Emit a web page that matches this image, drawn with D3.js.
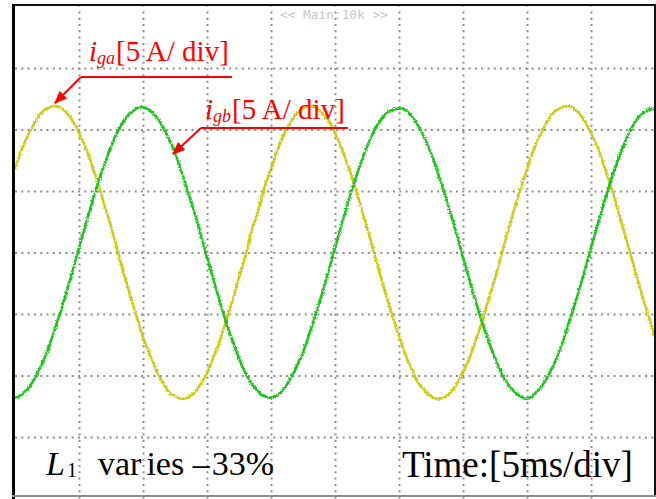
<!DOCTYPE html>
<html>
<head>
<meta charset="utf-8">
<script src="https://cdn.jsdelivr.net/npm/d3@7/dist/d3.min.js"></script>
<style>
    body { margin: 0; background: #fff; }
    svg { display: block; }
</style>
</head>
<body>
<div class="scope"></div>
<script>
// sample step of both traces, ms
var sampleStepMs = 0.5;

// i_ga, A (yellow trace), one value every 0.5 ms from 0 to 50 ms
var iga = [
    6.8, 8.3, 9.5, 10.5, 11.3, 11.7, 11.9, 11.8, 11.4, 10.7, 9.7, 8.6, 7.1, 5.6, 3.8, 2.1, 0.2, -1.7, -3.5, -5.2,
    -6.9, -8.2, -9.5, -10.5, -11.3, -11.7, -11.9, -11.8, -11.4, -10.7, -9.8, -8.5, -7.2, -5.5, -3.9, -2.0, -0.3, 1.8, 3.4, 5.3,
    6.8, 8.3, 9.6, 10.5, 11.3, 11.7, 11.9, 11.8, 11.3, 10.7, 9.7, 8.5, 7.1, 5.6, 3.8, 2.0, 0.2, -1.7, -3.5, -5.2,
    -6.8, -8.3, -9.5, -10.6, -11.2, -11.7, -11.9, -11.8, -11.4, -10.7, -9.7, -8.6, -7.1, -5.6, -3.8, -2.1, -0.2, 1.7, 3.5, 5.2,
    6.8, 8.3, 9.5, 10.5, 11.3, 11.7, 11.9, 11.8, 11.4, 10.7, 9.7, 8.6, 7.1, 5.6, 3.8, 2.0, 0.2, -1.7, -3.5, -5.2,
    -6.9
];

// i_gb, A (green trace)
var igb = [
    -11.8, -11.6, -11.1, -10.3, -9.3, -8.1, -6.6, -5.0, -3.3, -1.5, 0.4, 2.2, 4.0, 5.7, 7.2, 8.6, 9.8, 10.7, 11.3, 11.7, 11.8,
    11.6, 11.1, 10.3, 9.3, 8.1, 6.6, 5.0, 3.3, 1.5, -0.4, -2.2, -4.0, -5.7, -7.2, -8.6, -9.8, -10.7, -11.3, -11.7,
    -11.8, -11.6, -11.1, -10.3, -9.3, -8.1, -6.6, -5.0, -3.3, -1.5, 0.4, 2.2, 4.0, 5.7, 7.2, 8.6, 9.8, 10.7, 11.3, 11.6, 11.7,
    11.6, 11.1, 10.3, 9.3, 8.1, 6.6, 5.0, 3.3, 1.5, -0.4, -2.2, -4.0, -5.7, -7.2, -8.6, -9.8, -10.7, -11.3, -11.7,
    -11.9, -11.6, -11.1, -10.3, -9.3, -8.1, -6.6, -5.0, -3.3, -1.5, 0.4, 2.2, 4.0, 5.7, 7.2, 8.6, 9.8, 10.7, 11.3, 11.6, 11.7
];

// screen divisions: 10 x 5 ms, 8 x 5 A
var timeRange = [0, 50];
var ampRange = [-20, 20];
var gridTimes = [5, 10, 15, 20, 25, 30, 35, 40, 45];
var gridAmps = [-15, -10, -5, 0, 5, 10, 15];

var W = 656, H = 499;
var svg = d3.select(".scope").append("svg").attr("width", W).attr("height", H);

var x = d3.scaleLinear().domain(timeRange).range([15, 655]);
var y = d3.scaleLinear().domain(ampRange).range([498.5, 6.5]);

// noisy look of the scope traces
var defs = svg.append("defs");
var f = defs.append("filter").attr("id", "jitter")
    .attr("x", "-5%").attr("y", "-5%").attr("width", "110%").attr("height", "110%");
f.append("feTurbulence").attr("type", "fractalNoise").attr("baseFrequency", 0.7).attr("numOctaves", 1).attr("seed", 4).attr("result", "n");
f.append("feDisplacementMap").attr("in", "SourceGraphic").attr("in2", "n").attr("scale", 3.8)
    .attr("xChannelSelector", "R").attr("yChannelSelector", "G");

defs.append("marker").attr("id", "arrow").attr("markerUnits", "userSpaceOnUse")
    .attr("viewBox", "0 0 12 10").attr("refX", 11).attr("refY", 5)
    .attr("markerWidth", 13).attr("markerHeight", 11).attr("orient", "auto")
    .append("path").attr("d", "M0,0L12,5L0,10z").attr("fill", "#f00");

// grid
var gx = svg.append("g").attr("transform", "translate(0," + y(ampRange[0]) + ")")
    .call(d3.axisBottom(x).tickValues(gridTimes).tickSize(-(y(ampRange[0]) - y(ampRange[1]))).tickFormat(""));
var gy = svg.append("g").attr("transform", "translate(" + x(timeRange[0]) + ",0)")
    .call(d3.axisLeft(y).tickValues(gridAmps).tickSize(-(x(timeRange[1]) - x(timeRange[0]))).tickFormat(""));
[gx, gy].forEach(function(g) {
    g.select(".domain").remove();
    g.selectAll(".tick line").attr("stroke", "#8e8e8e").attr("stroke-width", 2).attr("stroke-dasharray", "2,4.3");
});

svg.append("text").attr("x", 280).attr("y", 19)
    .attr("font-family", "DejaVu Sans Mono").attr("font-size", 12.8).attr("fill", "#c8c8c8")
    .text("<< Main:10k >>");

// traces
var line = d3.line()
    .curve(d3.curveCatmullRom)
    .x(function(d, i) { return x(i * sampleStepMs); })
    .y(function(d) { return y(d); });

svg.append("path").datum(iga).attr("d", line).attr("fill", "none")
    .attr("stroke", "#cccc12").attr("stroke-width", 2.6).attr("filter", "url(#jitter)");
svg.append("path").datum(igb).attr("d", line).attr("fill", "none")
    .attr("stroke", "#1ec41e").attr("stroke-width", 2.6).attr("filter", "url(#jitter)");

// frame
svg.append("line").attr("x1", 12).attr("x2", 656).attr("y1", 5).attr("y2", 5).attr("stroke", "#111").attr("stroke-width", 2);
svg.append("line").attr("x1", 13.5).attr("x2", 13.5).attr("y1", 4).attr("y2", 499).attr("stroke", "#000").attr("stroke-width", 3);
svg.append("line").attr("x1", 655).attr("x2", 655).attr("y1", 4).attr("y2", 496).attr("stroke", "#111").attr("stroke-width", 2);
svg.append("line").attr("x1", 12).attr("x2", 656).attr("y1", 496).attr("y2", 496).attr("stroke", "#8c8c8c").attr("stroke-width", 2);

// red labels
function label(tx, ty, sub, lineY, x0, x1, tipX, tipY) {
    var t = svg.append("text").attr("x", tx).attr("y", ty)
        .attr("font-family", "Liberation Serif").attr("font-size", 29).attr("fill", "#f00");
    t.append("tspan").attr("font-style", "italic").text("i");
    t.append("tspan").attr("font-style", "italic").attr("font-size", 18).attr("dy", 3).text(sub);
    t.append("tspan").attr("dy", -3).attr("dx", 1).text("[5 A/ div]");
    svg.append("line").attr("x1", x0).attr("x2", x1).attr("y1", lineY).attr("y2", lineY)
        .attr("stroke", "#f00").attr("stroke-width", 2);
    svg.append("line").attr("x1", x0).attr("y1", lineY).attr("x2", tipX).attr("y2", tipY)
        .attr("stroke", "#f00").attr("stroke-width", 2).attr("marker-end", "url(#arrow)");
}
label(89, 61, "ga", 77, 81, 232, 55, 103);
label(205, 119, "gb", 128, 201, 348, 173, 154);

// bottom captions
var cap = svg.append("text").attr("x", 46).attr("y", 475)
    .attr("font-family", "Liberation Serif").attr("font-size", 34).attr("fill", "#000");
cap.append("tspan").attr("font-style", "italic").text("L");
cap.append("tspan").attr("x", 67).attr("dy", 2).attr("font-size", 20).text("1");
cap.append("tspan").attr("x", 98).attr("dy", -2).text("var");
cap.append("tspan").attr("dx", 5).text("ies \u2013");
cap.append("tspan").attr("dx", 2).text("33%");

svg.append("text").attr("x", 402).attr("y", 477)
    .attr("font-family", "Liberation Serif").attr("font-size", 37).attr("fill", "#000")
    .text("Time:[5ms/div]");
</script>
</body>
</html>
